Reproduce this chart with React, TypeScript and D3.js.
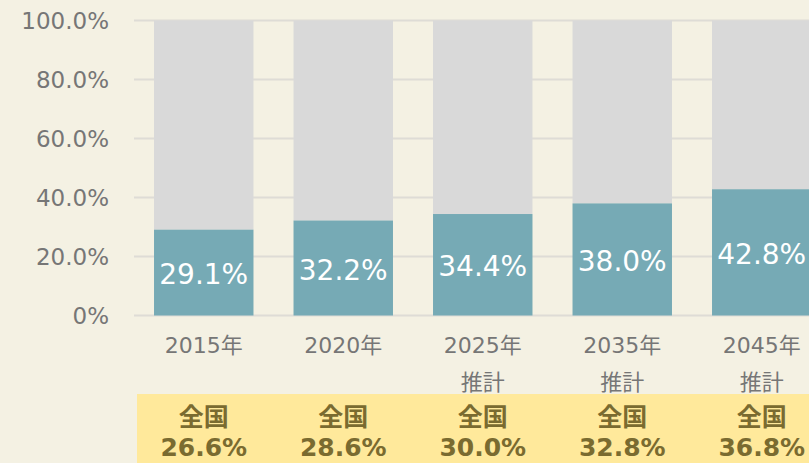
import React from "react";
import * as d3 from "d3";

const categories = ["2015年", "2020年", "2025年", "2035年", "2045年"];
const subLabels = ["", "", "推計", "推計", "推計"];
const values = [29.1, 32.2, 34.4, 38.0, 42.8];
const nationalValues = [26.6, 28.6, 30.0, 32.8, 36.8];
const yTicks = [0, 20, 40, 60, 80, 100];

const W = 809;
const H = 463;
const FONT = "'DejaVu Sans', Verdana, 'Noto Sans CJK JP', sans-serif";

export default function App() {
  const x = d3
    .scaleBand<string>()
    .domain(categories)
    .range([134, 831.5])
    .paddingInner(0.287)
    .paddingOuter(0.1435);
  const y = d3.scaleLinear().domain([0, 100]).range([315.5, 20.5]);
  const fmtTick = (v: number) => (v === 0 ? "0%" : `${v.toFixed(1)}%`);

  return (
    <svg
      width={W}
      height={H}
      style={{ position: "absolute", left: 0, top: 0, background: "#f4f1e3" }}
      fontFamily={FONT}
    >
      <rect x={0} y={0} width={W} height={H} fill="#f4f1e3" />
      {yTicks.map((t) => (
        <g key={t}>
          <line x1={134} x2={W} y1={y(t)} y2={y(t)} stroke="#dedcd6" strokeWidth={2} />
          <text
            x={109}
            y={y(t)}
            textAnchor="end"
            dominantBaseline="central"
            fontSize={23}
            fill="#767676"
          >
            {fmtTick(t)}
          </text>
        </g>
      ))}
      {categories.map((c, i) => {
        const bx = x(c)!;
        const bw = x.bandwidth();
        const cx = bx + bw / 2;
        return (
          <g key={c}>
            <rect x={bx} y={y(100)} width={bw} height={y(values[i]) - y(100)} fill="#d9d9d9" />
            <rect x={bx} y={y(values[i])} width={bw} height={y(0) - y(values[i])} fill="#76aab5" />
            <text
              x={cx}
              y={(y(values[i]) + y(0)) / 2 + 2}
              textAnchor="middle"
              dominantBaseline="central"
              fontSize={28}
              fill="#ffffff"
            >
              {values[i].toFixed(1)}%
            </text>
            <text x={cx} y={345} textAnchor="middle" dominantBaseline="central" fontSize={22} fill="#767676">
              {c}
            </text>
            {subLabels[i] && (
              <text x={cx} y={382} textAnchor="middle" dominantBaseline="central" fontSize={22} fill="#767676">
                {subLabels[i]}
              </text>
            )}
          </g>
        );
      })}
      <rect x={137} y={394} width={W - 137} height={H - 394} fill="#ffe99b" />
      {categories.map((c, i) => {
        const cx = x(c)! + x.bandwidth() / 2;
        return (
          <g key={"n" + c}>
            <text x={cx} y={417} textAnchor="middle" dominantBaseline="central" fontSize={25} fontWeight="bold" fill="#7a6b30">
              全国
            </text>
            <text x={cx} y={447} textAnchor="middle" dominantBaseline="central" fontSize={25} fontWeight="bold" fill="#7a6b30">
              {nationalValues[i].toFixed(1)}%
            </text>
          </g>
        );
      })}
    </svg>
  );
}
